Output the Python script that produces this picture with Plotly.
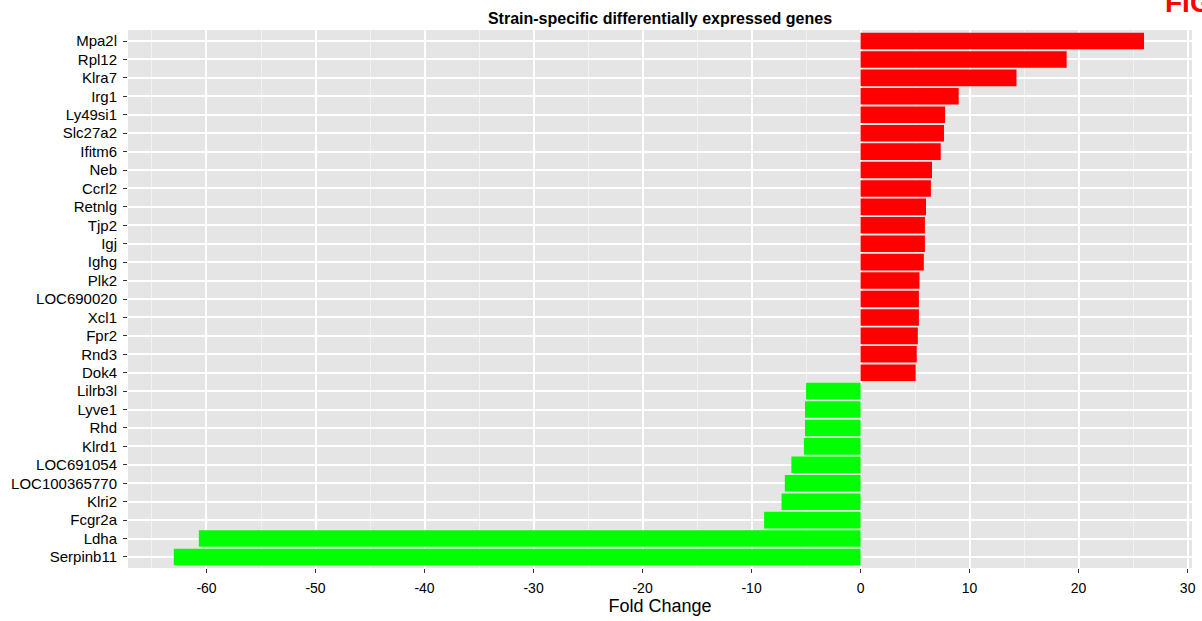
import plotly.graph_objects as go

genes = ["Mpa2l", "Rpl12", "Klra7", "Irg1", "Ly49si1", "Slc27a2", "Ifitm6", "Neb",
         "Ccrl2", "Retnlg", "Tjp2", "Igj", "Ighg", "Plk2", "LOC690020", "Xcl1",
         "Fpr2", "Rnd3", "Dok4", "Lilrb3l", "Lyve1", "Rhd", "Klrd1", "LOC691054",
         "LOC100365770", "Klri2", "Fcgr2a", "Ldha", "Serpinb11"]
fold_change = [26.0, 18.9, 14.3, 9.0, 7.75, 7.65, 7.35, 6.55,
               6.45, 6.0, 5.9, 5.9, 5.8, 5.4, 5.35, 5.35,
               5.25, 5.15, 5.05, -5.0, -5.1, -5.1, -5.2, -6.35,
               -6.95, -7.25, -8.85, -60.7, -63.0]
x_ticks = [-60, -50, -40, -30, -20, -10, 0, 10, 20, 30]

colors = ["#FF0000" if v > 0 else "#00FF00" for v in fold_change]
order = genes[::-1]

L, R, T, B = 128, 10, 30, 53
W, H = 1202, 621

fig = go.Figure(go.Bar(
    x=fold_change, y=genes, orientation="h",
    marker=dict(color=colors, line=dict(width=0)),
    width=0.9, hoverinfo="x+y",
))

fig.update_layout(
    width=W, height=H,
    margin=dict(l=L, r=R, t=T, b=B, autoexpand=False),
    paper_bgcolor="white", plot_bgcolor="#E5E5E5",
    showlegend=False,
    font=dict(family="Liberation Sans, Arial, sans-serif", color="black"),
    title=dict(text="<b>Strain-specific differentially expressed genes</b>",
               x=0.5, xref="paper", xanchor="center",
               y=1 - 18 / H, yref="container", yanchor="middle",
               font=dict(size=16, color="black")),
    xaxis=dict(
        range=[-67.2, 30.4], tickvals=x_ticks, ticktext=[str(t) for t in x_ticks],
        showgrid=True, gridcolor="white", gridwidth=1.6, zeroline=False,
        minor=dict(tick0=-65, dtick=10, showgrid=True, gridcolor="#F2F2F2", gridwidth=0.8),
        ticks="outside", ticklen=4, tickwidth=1, tickcolor="#333333",
        tickfont=dict(size=14, color="black"), ticklabelstandoff=3,
        title=dict(text="Fold Change", font=dict(size=18, color="black"), standoff=4),
        showline=False, automargin=False,
    ),
    yaxis=dict(
        categoryorder="array", categoryarray=order, range=[-0.6, 28.6],
        showgrid=True, gridcolor="white", gridwidth=1.6, zeroline=False,
        ticks="outside", ticklen=4, tickwidth=1, tickcolor="#333333",
        tickfont=dict(size=15, color="black"), ticklabelstandoff=3,
        showline=False, automargin=False,
    ),
    annotations=[dict(
        text="<b>FIG</b>", x=(1163 - L) / (W - L - R), xref="paper",
        y=1.019, yref="paper", xanchor="left", yanchor="bottom",
        showarrow=False, font=dict(size=28, color="#FF0000"),
    )],
)

fig.write_html("out.html", config={"displayModeBar": False},
               post_script="document.body.style.margin='0';")
